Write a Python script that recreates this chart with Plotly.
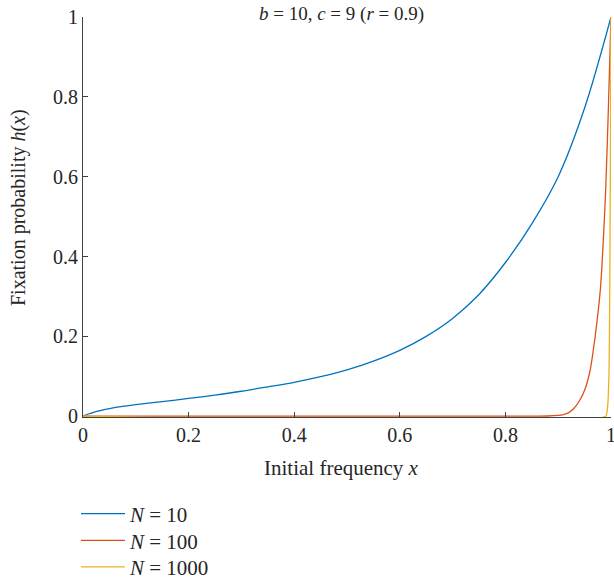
import plotly.graph_objects as go

# ---- data ----
x_n10 = [0, 0.01, 0.02, 0.03, 0.04, 0.05, 0.075, 0.1, 0.15, 0.2, 0.25, 0.3, 0.35, 0.4,
         0.45, 0.5, 0.55, 0.6, 0.65, 0.7, 0.75, 0.8, 0.85, 0.9, 0.95, 1.0]
h_n10 = [0, 0.0055, 0.0097, 0.0132, 0.0163, 0.019, 0.0245, 0.029, 0.0365, 0.0445, 0.053,
         0.0625, 0.0735, 0.085, 0.099, 0.116, 0.138, 0.165, 0.200, 0.245, 0.305, 0.385,
         0.482, 0.600, 0.772, 1.0]

x_n100 = [0, 0.85, 0.88, 0.9, 0.91, 0.92, 0.93, 0.94, 0.95, 0.96, 0.97, 0.98, 0.985,
          0.99, 0.995, 1.0]
h_n100 = [0, 0, 0.0005, 0.002, 0.004, 0.009, 0.02, 0.038, 0.065, 0.112, 0.2, 0.32,
          0.43, 0.57, 0.77, 1.0]

x_n1000 = [0, 0.99, 0.992, 0.994, 0.996, 0.997, 0.998, 0.999, 1.0]
h_n1000 = [0, 0, 0.008, 0.03, 0.1, 0.2, 0.4, 0.68, 1.0]

names = ["<i>N</i> = 10", "<i>N</i> = 100", "<i>N</i> = 1000"]
colors = ["#0072BD", "#D95319", "#EDB120"]
x_ticks = [0, 0.2, 0.4, 0.6, 0.8, 1]
x_ticktext = ["0", "0.2", "0.4", "0.6", "0.8", "1"]
y_ticks = [0, 0.2, 0.4, 0.6, 0.8, 1]
y_ticktext = ["0", "0.2", "0.4", "0.6", "0.8", "1"]
title_text = "<i>b</i> = 10, <i>c</i> = 9 (<i>r</i> = 0.9)"
x_title = "Initial frequency <i>x</i>"
y_title = "Fixation probability <i>h</i>(<i>x</i>)"

FONT = "Liberation Serif"
AX = "#404040"
TXT = "#262626"

W, H = 614, 582
ml, mr, mt, mb = 83, 3, 17, 165
PH = H - mt - mb
PW = W - ml - mr

legend_keys = ["legend", "legend2", "legend3"]
legend_rows_px = [514, 540.7, 567.3]

fig = go.Figure()
for xs, hs, nm, col, lg in zip([x_n10, x_n100, x_n1000], [h_n10, h_n100, h_n1000],
                               names, colors, legend_keys):
    fig.add_trace(go.Scatter(x=xs, y=hs, mode="lines", name=nm, legend=lg,
                             line=dict(color=col, width=1.3, shape="spline", smoothing=0.9)))

legend_common = dict(x=(76 - ml) / PW, xanchor="left", yanchor="middle",
                     bgcolor="rgba(0,0,0,0)", font=dict(family=FONT, size=21, color=TXT),
                     itemwidth=44)
legends = {}
for lg, py in zip(legend_keys, legend_rows_px):
    legends[lg] = dict(legend_common, y=(H - mb - py) / PH)

fig.update_layout(
    width=W, height=H,
    margin=dict(l=ml, r=mr, t=mt, b=mb, autoexpand=False),
    paper_bgcolor="white", plot_bgcolor="white",
    font=dict(family=FONT, size=20, color=TXT),
    title=dict(text=title_text, x=(341.5 - ml) / PW, xref="paper", xanchor="center",
               y=1 - 13 / H, yref="container", yanchor="middle",
               font=dict(family=FONT, size=19, color=TXT)),
    xaxis=dict(range=[0, 1.0], tickvals=x_ticks, ticktext=x_ticktext,
               ticks="inside", ticklen=5, tickcolor=AX, tickwidth=1,
               showline=True, linecolor=AX, linewidth=1, showgrid=False, zeroline=False,
               tickfont=dict(size=20), automargin=False, ticklabeloverflow="allow"),
    yaxis=dict(range=[-0.002, 1.0], tickvals=y_ticks, ticktext=y_ticktext,
               ticks="inside", ticklen=5, tickcolor=AX, tickwidth=1,
               showline=True, linecolor=AX, linewidth=1, showgrid=False, zeroline=False,
               tickfont=dict(size=20), automargin=False, ticklabeloverflow="allow"),
    showlegend=True,
    annotations=[
        dict(text=x_title, xref="paper", yref="paper",
             x=(341 - ml) / PW, y=(H - mb - 468) / PH, xanchor="center", yanchor="middle",
             showarrow=False, font=dict(family=FONT, size=21, color=TXT)),
        dict(text=y_title, xref="paper", yref="paper", textangle=-90,
             x=(18 - ml) / PW, y=(H - mb - 208) / PH, xanchor="center", yanchor="middle",
             showarrow=False, font=dict(family=FONT, size=20, color=TXT)),
    ],
    **legends,
)

fig.write_html("out.html", config={"displayModeBar": False},
               post_script="document.body.style.margin='0';")
